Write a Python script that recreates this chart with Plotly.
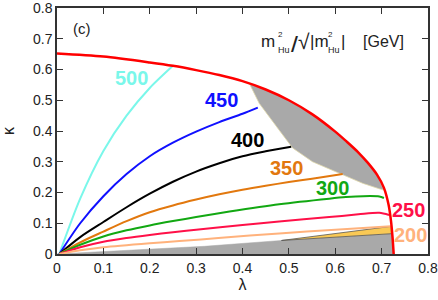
import plotly.graph_objects as go

# ---- data (lambda, kappa) ----
bnd_lam = [0, 0.1, 0.2, 0.25, 0.3, 0.35, 0.4, 0.45, 0.5, 0.55, 0.6, 0.625, 0.65, 0.67, 0.69, 0.705, 0.715, 0.72, 0.7235, 0.726]
bnd_kap = [0.652, 0.642, 0.623, 0.612, 0.598, 0.582, 0.562, 0.535, 0.50, 0.455, 0.398, 0.365, 0.33, 0.297, 0.258, 0.215, 0.16, 0.11, 0.055, 0.0]

lam_500 = [0.005, 0.05, 0.1, 0.15, 0.2, 0.25]
kap_500 = [0.0, 0.18, 0.335, 0.45, 0.54, 0.612]

lam_450 = [0.005, 0.05, 0.1, 0.15, 0.2, 0.25, 0.3, 0.35, 0.4, 0.433]
kap_450 = [0.0, 0.1, 0.188, 0.26, 0.318, 0.362, 0.398, 0.429, 0.456, 0.476]

lam_400 = [0.005, 0.05, 0.1, 0.15, 0.2, 0.25, 0.3, 0.35, 0.4, 0.45, 0.505]
kap_400 = [0.0, 0.055, 0.104, 0.152, 0.196, 0.235, 0.268, 0.295, 0.318, 0.334, 0.349]

lam_350 = [0.005, 0.05, 0.1, 0.15, 0.2, 0.25, 0.3, 0.35, 0.4, 0.45, 0.5, 0.55, 0.616]
kap_350 = [0.0, 0.038, 0.073, 0.107, 0.136, 0.158, 0.177, 0.194, 0.209, 0.222, 0.234, 0.245, 0.26]

lam_300 = [0.005, 0.05, 0.1, 0.15, 0.2, 0.25, 0.3, 0.372, 0.479, 0.587, 0.623, 0.66, 0.695, 0.705]
kap_300 = [0.0, 0.03, 0.057, 0.077, 0.093, 0.107, 0.12, 0.138, 0.162, 0.18, 0.185, 0.188, 0.187, 0.182]

lam_250 = [0.005, 0.05, 0.1, 0.15, 0.2, 0.25, 0.3, 0.4, 0.479, 0.587, 0.65, 0.695, 0.716]
kap_250 = [0.0, 0.022, 0.04, 0.052, 0.062, 0.071, 0.079, 0.094, 0.106, 0.12, 0.129, 0.134, 0.127]

lam_200 = [0.005, 0.05, 0.1, 0.2, 0.264, 0.348, 0.479, 0.6, 0.72]
kap_200 = [0.0, 0.012, 0.022, 0.035, 0.042, 0.052, 0.067, 0.079, 0.09]

# excluded (gray) regions: left edge of the upper lens, top edge of the lower band
lens_lam = [0.415, 0.436, 0.479, 0.508, 0.551, 0.601, 0.659, 0.695, 0.705]
lens_kap = [0.554, 0.49, 0.403, 0.345, 0.30, 0.268, 0.23, 0.212, 0.208]

low_lam = [0.0, 0.318, 0.484, 0.721]
low_kap = [0.0, 0.025, 0.044, 0.066]

yel_lam = [0.484, 0.721, 0.721, 0.484]
yel_kap = [0.044, 0.066, 0.090, 0.045]

series = [
    ("500", lam_500, kap_500, "#7af7ea", 0.161, 0.573),
    ("450", lam_450, kap_450, "#1010ff", 0.354, 0.500),
    ("400", lam_400, kap_400, "#000000", 0.411, 0.371),
    ("350", lam_350, kap_350, "#e2780e", 0.494, 0.279),
    ("300", lam_300, kap_300, "#12a812", 0.594, 0.214),
    ("250", lam_250, kap_250, "#ff1048", 0.759, 0.144),
    ("200", lam_200, kap_200, "#ffb27c", 0.763, 0.063),
]

# polygons built from the arrays above
lens_bx = [x for x in bnd_lam if lens_lam[0] < x < lens_lam[-1]]
lens_by = [k for x, k in zip(bnd_lam, bnd_kap) if lens_lam[0] < x < lens_lam[-1]]
lens_px = lens_lam + lens_bx[::-1] + [lens_lam[0]]
lens_py = lens_kap + lens_by[::-1] + [lens_kap[0]]

low_bx = [x for x, k in zip(bnd_lam, bnd_kap) if k < low_kap[-1]]
low_by = [k for k in bnd_kap if k < low_kap[-1]]
low_px = low_lam + low_bx + [low_lam[0]]
low_py = low_kap + low_by + [low_kap[0]]

fig = go.Figure()
fig.add_trace(go.Scatter(x=low_px, y=low_py, fill="toself", fillcolor="#a9a9a9",
                         line=dict(color="#a9a9a9", width=0.5), mode="lines", hoverinfo="skip"))
fig.add_trace(go.Scatter(x=lens_px, y=lens_py, fill="toself", fillcolor="#a9a9a9",
                         line=dict(color="#ddd6a8", width=0.8), mode="lines", hoverinfo="skip"))
fig.add_trace(go.Scatter(x=yel_lam + [yel_lam[0]], y=yel_kap + [yel_kap[0]], fill="toself", fillcolor="#f9c955",
                         line=dict(color="#555555", width=0.8), mode="lines", hoverinfo="skip"))

for name, lx, ky, col, tx, ty in series:
    fig.add_trace(go.Scatter(x=lx, y=ky, mode="lines", line=dict(color=col, width=2, shape="spline", smoothing=0.8),
                             hoverinfo="skip"))
    fig.add_annotation(x=tx, y=ty, xref="x", yref="y", text="<b>" + name + "</b>",
                       showarrow=False, font=dict(family="Liberation Sans", size=20, color=col))

fig.add_trace(go.Scatter(x=bnd_lam, y=bnd_kap, mode="lines",
                         line=dict(color="#ff0000", width=2.5, shape="spline", smoothing=0.8),
                         hoverinfo="skip"))

W, H = 438, 300
ML, MR, MT, MB = 57, 10, 8, 46
PW, PH = W - ML - MR, H - MT - MB


def px(x):
    return (x - ML) / PW


def py(y):
    return (H - MB - y) / PH


def ann(text, x, y, size, xanchor="left", yanchor="middle", family="Liberation Sans"):
    fig.add_annotation(x=px(x), y=py(y), xref="paper", yref="paper", text=text, showarrow=False,
                       xanchor=xanchor, yanchor=yanchor,
                       font=dict(family=family, size=size, color="#222222"))


ann("(c)", 82, 29, 15, xanchor="center")
# title pieces
ann("m", 259, 42, 17)
ann("2", 276, 34, 8)
ann("Hu", 275.5, 50, 9)
ann("<b>/</b>", 289, 43, 19, family="DejaVu Sans")
ann("√", 296, 41, 21)
ann("|m", 308, 42, 17)
ann("2", 326, 34, 8)
ann("Hu", 325.5, 50, 9)
ann("|", 339, 42, 17)
ann("[GeV]", 361, 42, 16)

axis_common = dict(range=[0, 0.8], dtick=0.1, tick0=0, showgrid=False, zeroline=False,
                   showline=True, linecolor="#333333", linewidth=1.5, mirror="ticks",
                   ticks="inside", ticklen=6, tickwidth=1.3, tickcolor="#333333", automargin=False,
                   ticklabeloverflow="allow",
                   tickfont=dict(family="Liberation Sans", size=14, color="#222222"))

fig.update_layout(
    width=W, height=H, margin=dict(l=ML, r=MR, t=MT, b=MB, autoexpand=False),
    plot_bgcolor="white", paper_bgcolor="white", showlegend=False,
    xaxis=dict(**axis_common, title=dict(text="λ", standoff=4,
                                         font=dict(family="Liberation Sans", size=16, color="#222222"))),
    yaxis=dict(**axis_common, title=dict(text="κ", standoff=14,
                                         font=dict(family="Liberation Sans", size=16, color="#222222"))),
)

fig.write_html("out.html", config={"displayModeBar": False},
               post_script="document.body.style.margin='0';document.body.style.overflow='hidden';")
